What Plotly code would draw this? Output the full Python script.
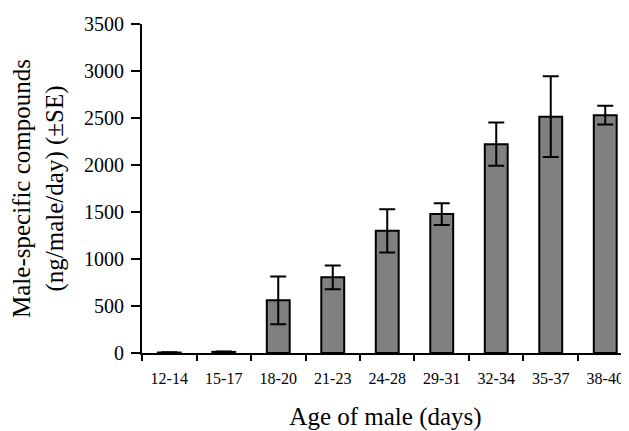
import plotly.graph_objects as go

categories = ["12-14", "15-17", "18-20", "21-23", "24-28", "29-31", "32-34", "35-37", "38-40"]
values = [5, 12, 560, 805, 1300, 1478, 2222, 2514, 2530]
errors = [2, 3, 255, 127, 230, 115, 230, 430, 100]
y_ticks = [0, 500, 1000, 1500, 2000, 2500, 3000, 3500]

FONT = "Liberation Serif, Times New Roman, serif"

fig = go.Figure(
    go.Bar(
        x=categories,
        y=values,
        marker=dict(color="#808080", line=dict(color="black", width=2)),
        error_y=dict(type="data", array=errors, visible=True, color="black",
                     thickness=2, width=8),
    )
)

# page body has an 8px default margin, so the figure is offset by 8px
fig.update_layout(
    width=621,
    height=423,
    margin=dict(l=134, r=0, t=16, b=78, autoexpand=False),
    plot_bgcolor="white",
    paper_bgcolor="white",
    bargap=0.58,
    showlegend=False,
    font=dict(family=FONT, color="black"),
)

fig.update_xaxes(
    range=[-0.5, 8.436],
    automargin=False,
    showline=True, linecolor="black", linewidth=2,
    ticks="outside", tickson="boundaries", ticklen=6, tickwidth=2, tickcolor="black",
    tickfont=dict(size=16, family=FONT),
    ticklabelstandoff=10,
    showgrid=False, zeroline=False,
    title=dict(text="Age of male (days)", font=dict(size=25, family=FONT), standoff=23),
)

fig.update_yaxes(
    range=[0, 3500],
    automargin=False,
    tickvals=y_ticks,
    showline=True, linecolor="black", linewidth=2,
    ticks="outside", ticklen=9, tickwidth=2, tickcolor="black",
    tickfont=dict(size=20, family=FONT),
    ticklabelstandoff=3,
    showgrid=False, zeroline=False,
    title=dict(text="Male-specific compounds<br>(ng/male/day) (±SE)",
               font=dict(size=25, family=FONT), standoff=19),
)

fig.write_html("out.html")
